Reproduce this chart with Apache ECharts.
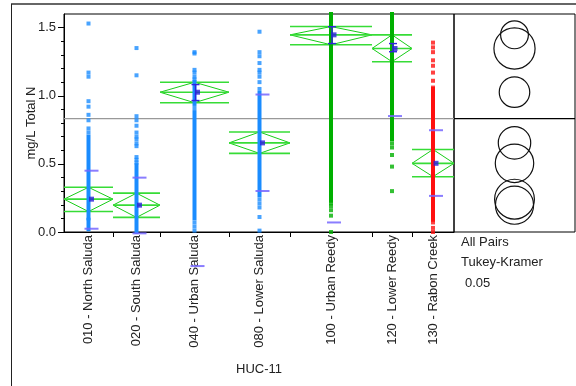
<!DOCTYPE html>
<html>
<head>
<meta charset="utf-8">
<script src="https://cdn.jsdelivr.net/npm/echarts@6/dist/echarts.min.js"></script>
<style>
  html, body { margin: 0; padding: 0; background: #fff; }
  #main { width: 576px; height: 386px; }
</style>
</head>
<body>
<div id="main"></div>
<script>
// groups on the HUC-11 axis, width of each slot ~ sample size
const groups = ['010 - North Saluda', '020 - South Saluda', '040 - Urban Saluda', '080 - Lower Saluda',
  '100 - Urban Reedy', '120 - Lower Reedy', '130 - Rabon Creek'];
const groupWidth = [49, 47, 69, 61, 82, 40, 42];

// means diamonds
const means = [0.241, 0.197, 1.026, 0.654, 1.447, 1.347, 0.504];
const diamondLow = [0.150, 0.107, 0.949, 0.577, 1.374, 1.250, 0.406];
const diamondHigh = [0.328, 0.285, 1.099, 0.734, 1.508, 1.447, 0.606];

// std dev marks (null = off the chart)
const stdLow = [0.024, -0.01, -0.25, 0.301, 0.07, 0.851, 0.265];
const stdHigh = [0.45, 0.399, null, 1.009, null, null, 0.747];

// mean error bars
const errLow = [null, null, 0.965, null, 1.383, 1.323, null];
const errHigh = [null, null, 1.082, null, 1.507, 1.383, null];

// comparison circles radius (Tukey-Kramer 0.05)
const circleRadius = [0.146, 0.140, 0.112, 0.119, 0.102, 0.151, 0.141];
const grandMean = 0.832;

// dense runs of points [low, high] and single points
const denseRuns = [
  [[0.10, 0.70], [0.02, 0.09]],
  [[0.0, 0.49]],
  [[0.94, 1.10], [0.10, 0.88]],
  [[0.27, 1.02]],
  [[1.22, 1.60], [0.23, 1.20]],
  [[0.68, 1.60]],
  [[0.09, 1.05]]
];
const singlePoints = [
  [1.53, 1.17, 1.14, 0.96, 0.92, 0.86, 0.82, 0.76, 0.73],
  [1.35, 1.15, 0.85, 0.82, 0.78, 0.73, 0.70, 0.68, 0.65, 0.63, 0.55, 0.53, 0.51],
  [1.32, 1.31, 1.19, 1.17, 1.14, 1.12, 0.91, 0.07, 0.04, 0.01],
  [1.47, 1.32, 1.29, 1.24, 1.19, 1.17, 1.14, 1.10, 1.05, 0.24, 0.21, 0.18, 0.11, 0.01],
  [0.21, 0.19, 0.16, 0.12, 0.0],
  [0.65, 0.62, 0.565, 0.48, 0.30],
  [1.39, 1.355, 1.32, 1.26, 1.22, 1.17, 1.11, 1.06, 0.07, 0.03, 0.0]
];

const yMajorTicks = [0, 0.5, 1.0, 1.5];
const yMinorTicks = [0.1, 0.2, 0.3, 0.4, 0.6, 0.7, 0.8, 0.9, 1.1, 1.2, 1.3, 1.4];

const groupColor = ['#1a8cff', '#1a8cff', '#1a8cff', '#1a8cff', '#00b000', '#00b000', '#ff1010'];

const edges = [0];
groupWidth.forEach(w => edges.push(edges[edges.length - 1] + w));
const centers = groupWidth.map((w, i) => edges[i] + w / 2);
const xMax = edges[edges.length - 1];

const font = 'Liberation Sans, Arial, sans-serif';
const chart = echarts.init(document.getElementById('main'));

const denseData = [];
denseRuns.forEach((runs, i) => runs.forEach(r => denseData.push([i, r[0], r[1]])));
const pointData = [];
singlePoints.forEach((vals, i) => vals.forEach(v => pointData.push({value: [centers[i], v], itemStyle: {color: groupColor[i]}})));
const stdData = [];
groups.forEach((g, i) => {
  if (stdLow[i] !== null) stdData.push([centers[i], stdLow[i]]);
  if (stdHigh[i] !== null) stdData.push([centers[i], stdHigh[i]]);
});
const errData = [];
groups.forEach((g, i) => {
  if (errLow[i] !== null) errData.push([centers[i], errLow[i], errHigh[i]]);
});

chart.setOption({
  animation: false,
  grid: [
    {left: 64, top: 14, width: 390, height: 218, show: true, borderColor: '#000', borderWidth: 1,
      backgroundColor: 'transparent', outerBoundsMode: 'none'},
    {left: 454, top: 14, width: 121, height: 218, show: true, borderColor: '#000', borderWidth: 1,
      backgroundColor: 'transparent', outerBoundsMode: 'none'}
  ],
  xAxis: [
    {
      gridIndex: 0, type: 'value', min: 0, max: xMax,
      name: 'HUC-11', nameLocation: 'middle', nameGap: 131, nameMoveOverlap: false,
      nameTextStyle: {color: '#222', fontSize: 13, fontFamily: font},
      axisLine: {show: true, lineStyle: {color: '#000'}},
      axisTick: {show: true, length: 5, customValues: edges.slice(1, -1), lineStyle: {color: '#000'}},
      axisLabel: {
        customValues: centers, rotate: 90, margin: 3, color: '#222', fontSize: 13, fontFamily: font,
        formatter: v => groups[centers.findIndex(c => Math.abs(c - v) < 0.01)] || ''
      },
      splitLine: {show: false}
    },
    {gridIndex: 1, type: 'value', min: 0, max: 1, show: false}
  ],
  yAxis: [
    {
      gridIndex: 0, type: 'value', min: 0, max: 1.6, position: 'left',
      name: 'mg/L Total N', nameLocation: 'middle', nameGap: 26, nameMoveOverlap: false,
      nameTextStyle: {color: '#222', fontSize: 13, fontFamily: font},
      axisLine: {show: true, lineStyle: {color: '#000'}},
      axisTick: {show: true, length: 6, customValues: yMajorTicks, lineStyle: {color: '#000'}},
      axisLabel: {customValues: yMajorTicks, margin: 8, color: '#222', fontSize: 13, fontFamily: font,
        formatter: v => v.toFixed(1)},
      splitLine: {show: false}
    },
    {
      gridIndex: 0, type: 'value', min: 0, max: 1.6, position: 'left', offset: 0,
      axisLine: {show: false},
      axisTick: {show: true, length: 3, customValues: yMinorTicks, lineStyle: {color: '#000'}},
      axisLabel: {show: false},
      splitLine: {show: false}
    },
    {gridIndex: 1, type: 'value', min: 0, max: 1.6, show: false}
  ],
  graphic: [
    {type: 'line', shape: {x1: 11, y1: 4, x2: 576, y2: 4}, style: {stroke: '#666', lineWidth: 2}},
    {type: 'line', shape: {x1: 11.5, y1: 4, x2: 11.5, y2: 386}, style: {stroke: '#222', lineWidth: 1}},
    {type: 'text', left: 461, top: 236, style: {text: 'All Pairs', fill: '#222', font: '13px ' + font}},
    {type: 'text', left: 461, top: 256, style: {text: 'Tukey-Kramer', fill: '#222', font: '13px ' + font}},
    {type: 'text', left: 465, top: 277, style: {text: '0.05', fill: '#222', font: '13px ' + font}}
  ],
  series: [
    {
      // grand mean
      type: 'line', xAxisIndex: 0, yAxisIndex: 0, symbol: 'none', silent: true,
      lineStyle: {color: '#999', width: 1.2},
      data: [[0, grandMean], [xMax, grandMean]], z: 1
    },
    {
      // means diamonds
      type: 'custom', xAxisIndex: 0, yAxisIndex: 0, z: 2, silent: true,
      data: groups.map((g, i) => [i, means[i], diamondLow[i], diamondHigh[i]]),
      renderItem: (params, api) => {
        const i = api.value(0);
        const m = api.value(1), lo = api.value(2), hi = api.value(3);
        const pL = api.coord([edges[i], m]), pR = api.coord([edges[i + 1], m]);
        const pT = api.coord([centers[i], hi]), pB = api.coord([centers[i], lo]);
        const ls = {stroke: '#36dc36', lineWidth: 1.6};
        return {type: 'group', children: [
          {type: 'polygon', shape: {points: [pL, pT, pR, pB]}, style: {fill: 'none', stroke: '#18cc18', lineWidth: 1}},
          {type: 'line', shape: {x1: pL[0], y1: pT[1], x2: pR[0], y2: pT[1]}, style: ls},
          {type: 'line', shape: {x1: pL[0], y1: pL[1], x2: pR[0], y2: pR[1]}, style: ls},
          {type: 'line', shape: {x1: pL[0], y1: pB[1], x2: pR[0], y2: pB[1]}, style: ls}
        ]};
      }
    },
    {
      // dense columns of points
      type: 'custom', xAxisIndex: 0, yAxisIndex: 0, z: 3, silent: true, clip: false,
      data: denseData,
      renderItem: (params, api) => {
        const i = api.value(0);
        const p1 = api.coord([centers[i], api.value(2)]);
        const p2 = api.coord([centers[i], api.value(1)]);
        return {type: 'rect', shape: {x: p1[0] - 2, y: p1[1] - 2, width: 4, height: p2[1] - p1[1] + 4},
          style: {fill: groupColor[i]}};
      }
    },
    {
      type: 'scatter', xAxisIndex: 0, yAxisIndex: 0, z: 3, silent: true, clip: false,
      symbol: 'rect', symbolSize: 4,
      data: pointData
    },
    {
      // std dev marks
      type: 'custom', xAxisIndex: 0, yAxisIndex: 0, z: 4, silent: true, clip: false,
      data: stdData,
      renderItem: (params, api) => {
        const p = api.coord([api.value(0), api.value(1)]);
        return {type: 'line', shape: {x1: p[0] - 4, y1: p[1], x2: p[0] + 10, y2: p[1]},
          style: {stroke: '#7566ff', lineWidth: 2, opacity: 0.85}};
      }
    },
    {
      // mean error bars
      type: 'custom', xAxisIndex: 0, yAxisIndex: 0, z: 5, silent: true,
      data: errData,
      renderItem: (params, api) => {
        const a = api.coord([api.value(0), api.value(1)]);
        const b = api.coord([api.value(0), api.value(2)]);
        const x = a[0] + 1;
        const st = {stroke: '#3322dd', lineWidth: 1.4};
        return {type: 'group', children: [
          {type: 'line', shape: {x1: x, y1: a[1], x2: x, y2: b[1]}, style: st},
          {type: 'line', shape: {x1: x - 4, y1: a[1], x2: x + 4, y2: a[1]}, style: st},
          {type: 'line', shape: {x1: x - 4, y1: b[1], x2: x + 4, y2: b[1]}, style: st}
        ]};
      }
    },
    {
      type: 'scatter', xAxisIndex: 0, yAxisIndex: 0, z: 6, silent: true,
      symbol: 'rect', symbolSize: 5, symbolOffset: [3, 0],
      itemStyle: {color: '#2a1fd9'},
      data: groups.map((g, i) => [centers[i], means[i]])
    },
    {
      // comparison circles panel divider
      type: 'line', xAxisIndex: 1, yAxisIndex: 2, symbol: 'none', silent: true,
      lineStyle: {color: '#000', width: 1.2},
      data: [[0, grandMean], [1, grandMean]]
    },
    {
      type: 'custom', xAxisIndex: 1, yAxisIndex: 2, silent: true,
      data: groups.map((g, i) => [0.5, means[i], circleRadius[i]]),
      renderItem: (params, api) => {
        const c = api.coord([0.5, api.value(1)]);
        const r = api.size([0, api.value(2)])[1];
        return {type: 'circle', shape: {cx: c[0], cy: c[1], r: r},
          style: {fill: 'none', stroke: '#111', lineWidth: 1.2}};
      }
    }
  ]
});
</script>
</body>
</html>
